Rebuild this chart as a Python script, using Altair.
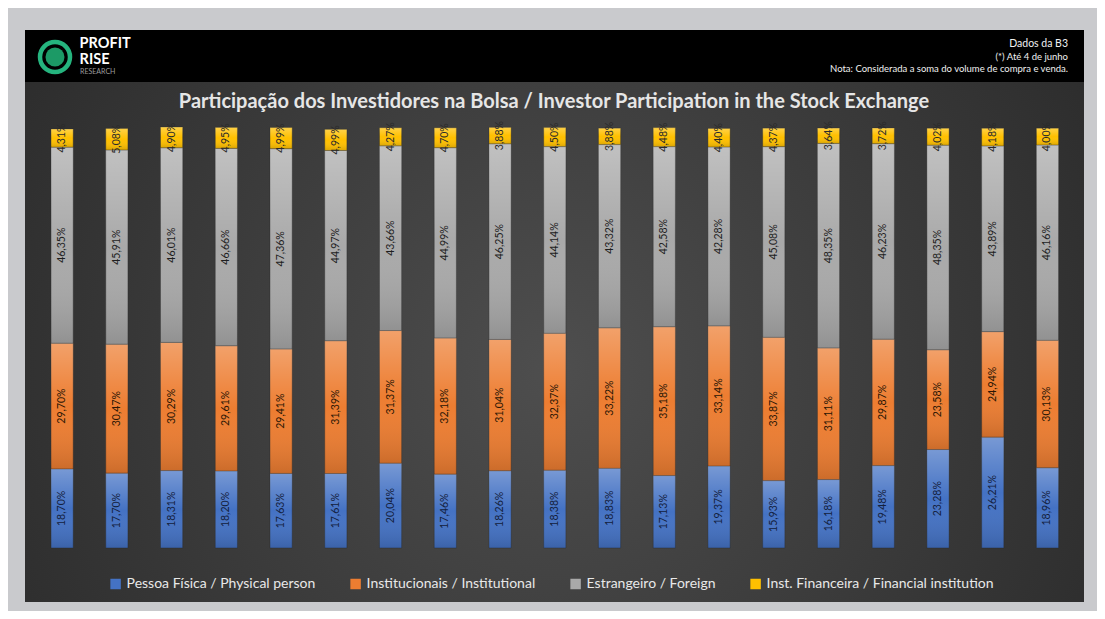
import json
import altair as alt
import pandas as pd

# ---------------- data ----------------
months = ["Jan/Jan/19", "Fev/Feb", "Mar/Mar", "Abr/Apr", "Mai/May", "Jun/Jun",
          "Jul/Jul", "Aug/Ago", "Set/Sep", "Out/Oct", "Nov/Nov", "Dez/Dec(*)",
          "Jan/Jan", "Fev/Feb", "Mar/Mar", "Abr/Apr", "Mai/May", "Jun/Jun(*)",
          "2020  (*)"]
series = ["Pessoa Física / Physical person", "Institucionais / Institutional",
          "Estrangeiro / Foreign", "Inst. Financeira / Financial institution"]
pessoa_fisica = [18.70, 17.70, 18.31, 18.20, 17.63, 17.61, 20.04, 17.46, 18.26, 18.38,
                 18.83, 17.13, 19.37, 15.93, 16.18, 19.48, 23.28, 26.21, 18.96]
institucionais = [29.70, 30.47, 30.29, 29.61, 29.41, 31.39, 31.37, 32.18, 31.04, 32.37,
                  33.22, 35.18, 33.14, 33.87, 31.11, 29.87, 23.58, 24.94, 30.13]
estrangeiro = [46.35, 45.91, 46.01, 46.66, 47.36, 44.97, 43.66, 44.99, 46.25, 44.14,
               43.32, 42.58, 42.28, 45.08, 48.35, 46.23, 48.35, 43.89, 46.16]
inst_financeira = [4.31, 5.08, 4.90, 4.95, 4.99, 4.99, 4.27, 4.70, 3.88, 4.50,
                   3.88, 4.48, 4.40, 4.37, 3.64, 3.72, 4.02, 4.18, 4.00]
grid_values = [10, 20, 30, 40, 50, 60, 70, 80, 90, 100]

colors = ["#4472c4", "#ed7d31", "#a9a9a9", "#ffc000"]
label_colors = ["#14213d", "#2a1605", "#1e1e1e", "#2a2a2a"]

rows = []
for s_i, (name, vals) in enumerate(zip(series, [pessoa_fisica, institucionais, estrangeiro, inst_financeira])):
    for m_i, v in enumerate(vals):
        rows.append({"idx": m_i, "series": name, "order": s_i, "value": v,
                     "label": f"{v:.2f}".replace(".", ",") + "%"})
df = pd.DataFrame(rows)

FONT = "Lato"
W, H = 1040.4, 423

label_expr = json.dumps(months) + "[datum.value]"

base = alt.Chart(df).transform_stack(
    stack="value", groupby=["idx"], sort=[alt.SortField("order")], as_=["y0", "y1"]
).transform_calculate(mid="(datum.y0 + datum.y1) / 2")

xenc = alt.X("idx:O", title=None,
             scale=alt.Scale(paddingInner=0.595, paddingOuter=0.3),
             axis=alt.Axis(labelExpr=label_expr, labelAngle=0, labelFontSize=8.5,
                           labelColor="#cfcfcf", labelFont=FONT, ticks=True,
                           tickBand="extent", tickSize=4, tickColor="#9a9a9a",
                           domainColor="#8c8c8c", labelPadding=7, grid=False))
yscale = alt.Scale(domain=[0, 100], nice=False, zero=True)

bars = base.mark_bar(stroke="#2a2a2a", strokeWidth=0.4).encode(
    x=xenc,
    y=alt.Y("y0:Q", scale=yscale, title=None,
            axis=alt.Axis(values=grid_values, labels=False, ticks=False, domain=False,
                          grid=True, gridColor="#5e5e5e", gridWidth=1)),
    y2="y1:Q",
    color=alt.Color("series:N", scale=alt.Scale(domain=series, range=colors),
                    sort=series,
                    legend=alt.Legend(title=None, orient="none", direction="horizontal",
                                      legendX=74, legendY=452, symbolType="square",
                                      symbolSize=110, symbolStrokeWidth=0, symbolOpacity=1,
                                      labelFontSize=14, labelFont=FONT,
                                      labelColor="#e8e8e8", columnPadding=33,
                                      labelOffset=4, labelLimit=400)),
)

shade = base.mark_bar(
    fill=alt.Gradient(gradient="linear", x1=0, y1=0, x2=0, y2=1,
                      stops=[alt.GradientStop(color="rgba(255,255,255,0.28)", offset=0),
                             alt.GradientStop(color="rgba(255,255,255,0.0)", offset=0.5),
                             alt.GradientStop(color="rgba(0,0,0,0.14)", offset=1)])
).encode(x=alt.X("idx:O"), y=alt.Y("y0:Q"), y2="y1:Q", detail="series:N")

labels = base.mark_text(angle=270, fontSize=10.5, font=FONT).encode(
    x=alt.X("idx:O"), y=alt.Y("mid:Q"), text="label:N",
    color=alt.Color("series:N", scale=alt.Scale(domain=series, range=label_colors), legend=None))

one = pd.DataFrame({"k": [0]})

panel = alt.Chart(one).mark_rect(
    fill=alt.Gradient(gradient="radial", x1=0.5, y1=0.55, r1=0, x2=0.5, y2=0.55, r2=0.75,
                      stops=[alt.GradientStop(color="#4e4e4e", offset=0),
                             alt.GradientStop(color="#232323", offset=1)])
).encode(x=alt.value(-9.6), x2=alt.value(1049.4), y=alt.value(-95), y2=alt.value(477))

header = alt.Chart(one).mark_rect(color="#000000").encode(
    x=alt.value(-9.6), x2=alt.value(1049.4), y=alt.value(-95), y2=alt.value(-43))

title = alt.Chart(one).mark_text(
    text="Participação dos Investidores na Bolsa / Investor Participation in the Stock Exchange",
    font=FONT, fontSize=20, fontWeight="bold", color="#e6e6e6", align="center", baseline="middle"
).encode(x=alt.value(519.4), y=alt.value(-23))

note_lines = ["Dados da B3", "(*) Até 4 de junho", "Nota: Considerada a soma do volume de compra e venda."]
note_sizes = [10.5, 9.5, 9.5]
note_y = [-81, -68, -56]
notes = [alt.Chart(one).mark_text(text=t, font=FONT, fontSize=fs, color="#f0f0f0",
                                  align="right", baseline="middle").encode(
    x=alt.value(1033.4), y=alt.value(yy)) for t, fs, yy in zip(note_lines, note_sizes, note_y)]

ring = alt.Chart(one).mark_point(shape="circle", filled=False, size=900, strokeWidth=4.5,
                                 color="#25b47e", opacity=1).encode(
    x=alt.value(20.4), y=alt.value(-68))
inner = alt.Chart(one).mark_point(shape="circle", filled=True, size=360,
                                  color="#1c9a66", opacity=1).encode(
    x=alt.value(20.4), y=alt.value(-68))
logo1 = alt.Chart(one).mark_text(text="PROFIT", font=FONT, fontSize=14.5, fontWeight="bold",
                                 color="#ffffff", align="left", baseline="middle").encode(
    x=alt.value(45), y=alt.value(-81.5))
logo2 = alt.Chart(one).mark_text(text="RISE", font=FONT, fontSize=14.5, fontWeight="bold",
                                 color="#ffffff", align="left", baseline="middle").encode(
    x=alt.value(45), y=alt.value(-65.5))
logo3 = alt.Chart(one).mark_text(text="RESEARCH", font=FONT, fontSize=7,
                                 color="#9a9a9a", align="left", baseline="middle").encode(
    x=alt.value(45.5), y=alt.value(-53))

chart = alt.layer(
    panel, header, title, *notes, ring, inner, logo1, logo2, logo3,
    bars, shade, labels
).resolve_scale(color="independent").properties(
    width=W, height=H,
    padding={"left": 26.6, "top": 117, "right": 22, "bottom": 63},
    autosize="none",
    background="#c9cacd",
).configure_view(stroke=None)

chart.save("out.html", embed_options={"renderer": "svg", "actions": False})
